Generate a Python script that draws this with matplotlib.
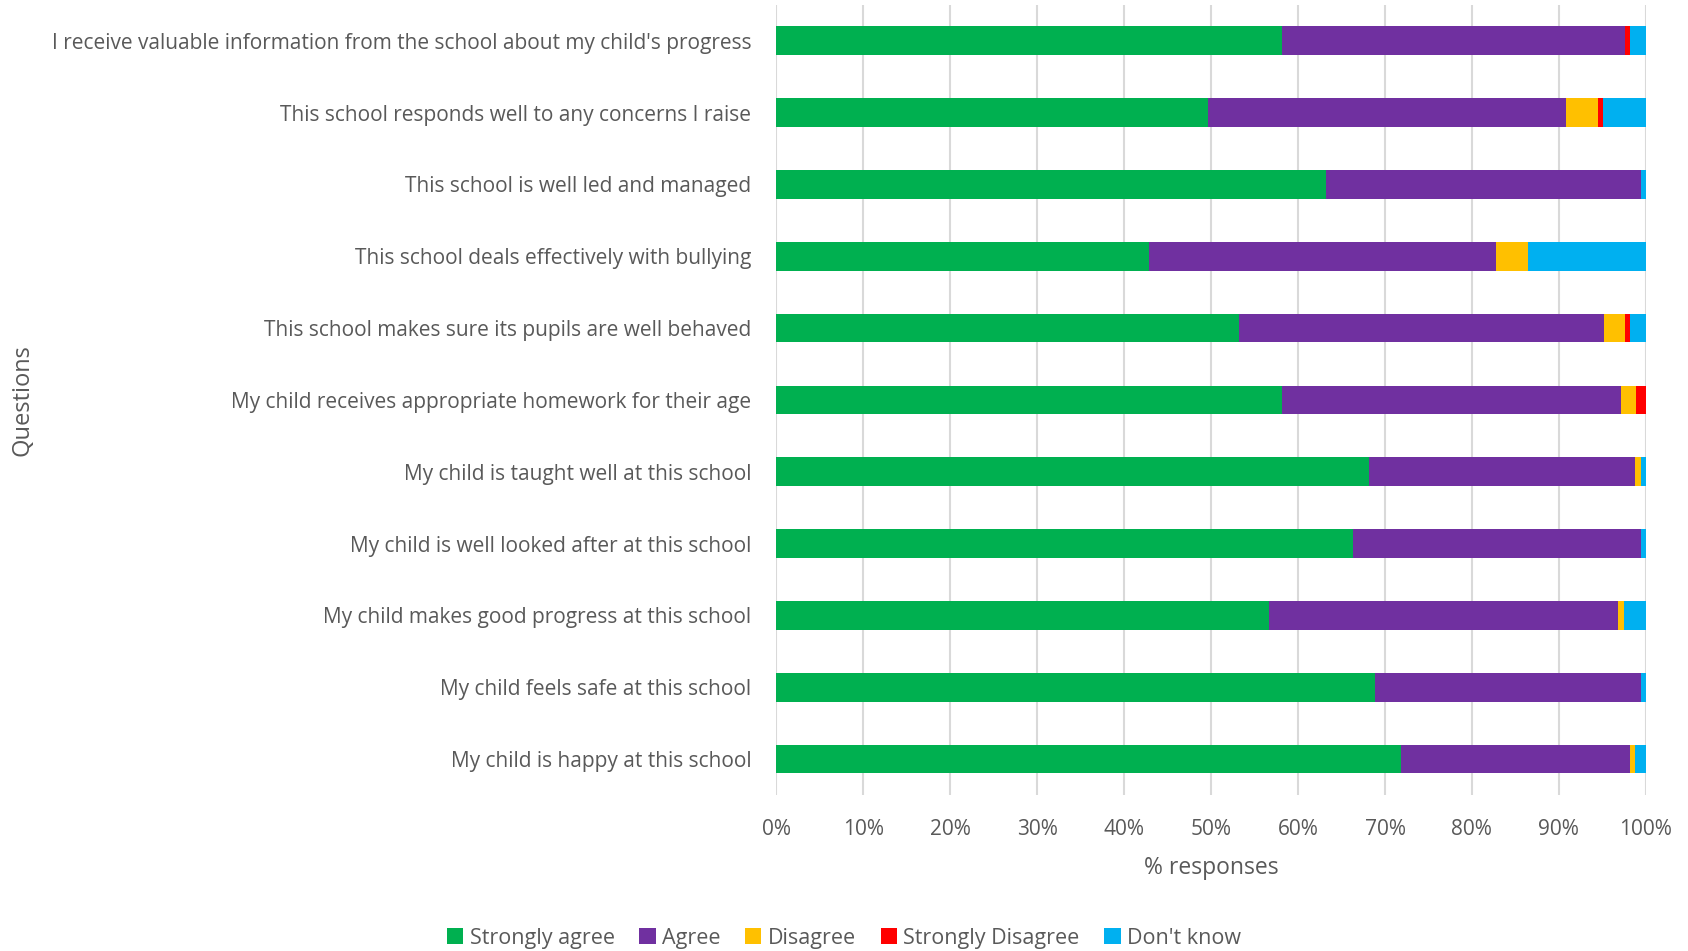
#! /usr/bin/env python3

import numpy as np
import matplotlib.pyplot as plt
from matplotlib.ticker import PercentFormatter

plt.rcParams['font.family'] = ['Open Sans', 'DejaVu Sans']

# questions, top to bottom as in the chart
questions = [
	"I receive valuable information from the school about my child's progress",
	"This school responds well to any concerns I raise",
	"This school is well led and managed",
	"This school deals effectively with bullying",
	"This school makes sure its pupils are well behaved",
	"My child receives appropriate homework for their age",
	"My child is taught well at this school",
	"My child is well looked after at this school",
	"My child makes good progress at this school",
	"My child feels safe at this school",
	"My child is happy at this school",
]

# % of responses per answer
strongly_agree = [58.1, 49.6, 63.2, 42.8, 53.2, 58.1, 68.2, 66.3, 56.7, 68.9, 71.8]
agree = [39.5, 41.2, 36.2, 40.0, 42.0, 39.1, 30.6, 33.1, 40.1, 30.5, 26.4]
disagree = [0.0, 3.7, 0.0, 3.7, 2.4, 1.7, 0.6, 0.0, 0.7, 0.0, 0.6]
strongly_disagree = [0.6, 0.6, 0.0, 0.0, 0.6, 1.1, 0.0, 0.0, 0.0, 0.0, 0.0]
dont_know = [1.8, 4.9, 0.6, 13.5, 1.8, 0.0, 0.6, 0.6, 2.5, 0.6, 1.2]

series = [
	("Strongly agree", strongly_agree, '#00B050'),
	("Agree", agree, '#7030A0'),
	("Disagree", disagree, '#FFC000'),
	("Strongly Disagree", strongly_disagree, '#FF0000'),
	("Don't know", dont_know, '#00B0F0'),
]

text_col = '#595959'

fig = plt.figure(figsize=(16.88, 9.51), dpi=100)
ax = fig.add_axes([0.46, 0.164, 0.515, 0.831])

y = np.arange(len(questions))
left = np.zeros(len(questions))
for name, vals, col in series:
	vals = np.array(vals)
	ax.barh(y, vals, left=left, height=0.4, color=col, label=name, zorder=3)
	left = left + vals

ax.set_ylim(-0.5, len(questions) - 0.5)
ax.invert_yaxis()
ax.set_xlim(0, 100)
ax.set_xticks(np.arange(0, 101, 10))
ax.xaxis.set_major_formatter(PercentFormatter(decimals=0))
ax.set_yticks(y)
ax.set_yticklabels(questions)
ax.grid(axis='x', color='#d9d9d9', linewidth=1.5, zorder=0)
for s in ax.spines.values():
	s.set_visible(False)
ax.tick_params(axis='both', length=0, colors=text_col, labelsize=15)
ax.tick_params(axis='y', pad=18)
ax.tick_params(axis='x', pad=17)
ax.set_xlabel("% responses", color=text_col, fontsize=16.5, labelpad=12)
ax.set_ylabel("Questions", color=text_col, fontsize=17)
ax.yaxis.set_label_coords(-0.853, 0.5)

fig.legend(loc='lower center', bbox_to_anchor=(0.5, -0.018), ncol=5, frameon=False,
		fontsize=15.5, labelcolor=text_col, handlelength=0.75, handleheight=0.75,
		handletextpad=0.3, columnspacing=1.15)

plt.savefig('out.png', dpi=100)
plt.close()
